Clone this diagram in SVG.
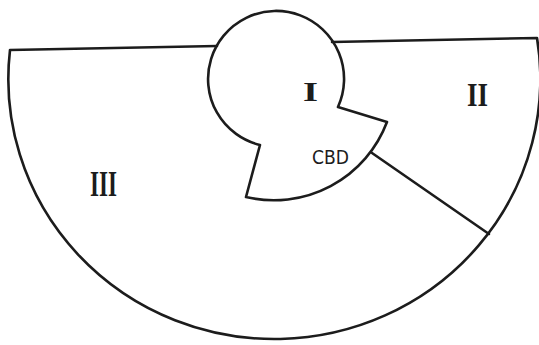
<svg xmlns="http://www.w3.org/2000/svg" width="539" height="345" viewBox="0 0 539 345">
<style>
.ln{fill:none;stroke:#1c1c1c;stroke-width:2.6;stroke-linejoin:round;stroke-linecap:round}
.rn{font-family:"Liberation Serif","Times New Roman",serif;font-weight:bold;fill:#1c1c1c}
.cbd{font-family:"DejaVu Sans","Liberation Sans",sans-serif;font-size:20px;fill:#1c1c1c}
</style>
<rect width="539" height="345" fill="#ffffff"/>
<g id="zone-III">
<path class="ln" d="M 217 46 L 10 50 A 266 260 0 1 0 537 38 L 332 42"/>
<text class="rn" x="90" y="196" font-size="35" textLength="27" lengthAdjust="spacingAndGlyphs">III</text>
</g>
<g id="zone-II">
<text class="rn" x="467" y="106" font-size="34" textLength="21" lengthAdjust="spacingAndGlyphs">II</text>
</g>
<g id="zone-I">
<path class="ln" d="M 338 107 A 68 68 0 1 0 260 145 L 246 197 A 121 121 0 0 0 387 122 Z"/>
<text class="rn" x="303" y="101" font-size="28" textLength="15" lengthAdjust="spacingAndGlyphs">I</text>
<text class="cbd" x="312" y="164" textLength="37" lengthAdjust="spacingAndGlyphs">CBD</text>
</g>
<g id="connectors">
<line class="ln" x1="372" y1="153" x2="489" y2="234"/>
</g>
</svg>
